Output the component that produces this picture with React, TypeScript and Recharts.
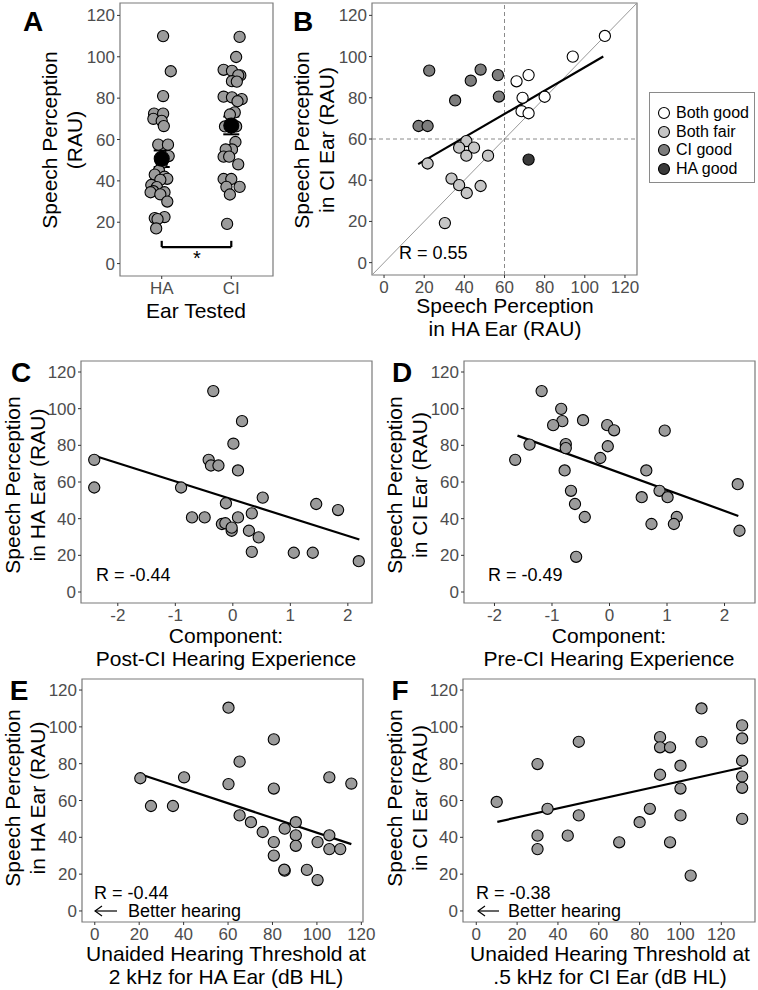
import React from 'react';
import { ScatterChart, Scatter, XAxis, YAxis, ReferenceLine, ReferenceArea, ErrorBar } from 'recharts';

const FONT = '"Liberation Sans", Arial, Helvetica, sans-serif';
const yTicks = [0, 20, 40, 60, 80, 100, 120];
const yDomain: [number, number] = [-6, 126];

// Panel A: speech perception per ear (jittered strip)
const haJitter = [1.02, 1.13, 1.02, 0.89, 1.02, 0.88, 1.0, 1.03, 0.95, 1.09, 1.1, 1.0, 0.96, 0.9, 1.04, 1.08, 0.98, 0.85, 0.93, 0.88, 0.84, 1.04, 0.98, 1.08, 1.04, 0.9, 0.94, 0.92];
const haScores = [110, 93, 81, 72.5, 72.5, 70, 69, 66.5, 57.5, 57.5, 52, 48.5, 45, 43, 42, 41, 40.5, 38, 37, 35, 34.5, 34.5, 33.5, 30, 22.5, 22, 21.5, 17];
const ciJitter = [2.12, 2.07, 1.89, 2.01, 2.13, 2.1, 2.01, 2.08, 1.89, 2.01, 2.15, 2.09, 2.05, 1.98, 1.91, 2.07, 2.06, 2.01, 1.92, 1.89, 1.97, 2.1, 1.89, 2.0, 1.93, 2.12, 1.98, 1.94];
const ciScores = [109.6, 99.9, 93.7, 93.2, 91, 91, 88.2, 88, 80.7, 80.4, 79.5, 78.5, 73.1, 72.1, 66.3, 66.3, 58.8, 55.2, 55.2, 51.7, 51.7, 48, 40.9, 40.9, 37.1, 37.1, 33.4, 19.2];
const earPos = [1, 2];
const earNames = ['HA', 'CI'];
const earMeans = [50.7, 66.8];
const earSE = [4, 4.3];

// Panel B: HA ear vs CI ear, by group
const groupNames = ['Both good', 'Both fair', 'CI good', 'HA good'];
const groupFills = ['#ffffff', '#c6c6c6', '#7d7d7d', '#3a3a3a'];
const bothGoodHA = [110, 94, 72, 66, 69, 80, 68.5, 72];
const bothGoodCI = [110, 100, 91, 88, 80, 80.5, 73.5, 72.5];
const bothFairHA = [21.7, 41, 37.4, 44.8, 41, 51.8, 33.6, 37.4, 41.2, 48.1, 30.3];
const bothFairCI = [48.1, 59, 55.8, 55.8, 51.9, 51.9, 40.8, 37.6, 33.8, 37.2, 19.2];
const ciGoodHA = [22.5, 43.2, 48.1, 56.7, 35.4, 57.2, 17.2, 21.7];
const ciGoodCI = [93.2, 88.3, 93.7, 91, 78.7, 80.6, 66.3, 66.3];
const haGoodHA = [72];
const haGoodCI = [50];
const fitB = [[17, 47.8], [109.2, 100]];

// Panel C: post-CI hearing experience component vs HA ear
const postCI = [-2.41, -2.41, -0.34, 0.16, 0.01, -0.42, -0.38, -0.25, 0.09, -0.9, -0.12, 0.52, -0.71, -0.49, 0.09, 0.33, -0.19, -0.13, -0.02, -0.02, 0.28, 0.45, 0.33, 1.06, 1.39, 1.45, 1.83, 2.19];
const haC = [72.1, 57, 109.6, 93.2, 80.9, 72.1, 69, 69, 66.3, 57, 48.4, 51.5, 40.7, 40.7, 40.7, 42.9, 37.1, 37.5, 33.4, 35.1, 33.4, 29.8, 21.9, 21.4, 21.4, 48, 44.7, 16.8];
const fitC = [[-2.35, 73.8], [2.2, 28.6]];

// Panel D: pre-CI hearing experience component vs CI ear
const preCI = [-1.18, -0.84, -0.82, -0.98, -0.46, -0.04, 0.08, 0.96, -1.39, -0.76, -0.76, -0.03, -0.16, -1.64, -0.78, 0.64, -0.67, -0.6, -0.43, 0.87, 0.56, 1.01, 1.17, 1.12, 0.73, 2.23, 2.26, -0.58];
const ciD = [109.6, 99.9, 93.2, 91, 93.7, 91, 88.2, 88, 80.4, 80.7, 78.5, 79.5, 73.1, 72.1, 66.3, 66.3, 55.2, 48, 40.9, 55.2, 51.7, 51.7, 40.9, 37.1, 37.1, 58.8, 33.4, 19.2];
const fitD = [[-1.6, 85.3], [2.24, 41.5]];

// Panel E: 2 kHz threshold HA ear vs HA ear
const thrHA = [20.5, 25.3, 35.2, 40.2, 60.2, 60.2, 65.2, 80.6, 80.6, 65.2, 70.3, 75.6, 80.6, 80.6, 85.5, 85.5, 85.3, 90.5, 90.5, 90.5, 95.5, 100.3, 100.3, 105.6, 105.6, 105.6, 110.5, 115.5];
const haE = [72.1, 57, 57, 72.6, 110.4, 68.9, 81.1, 93.2, 66.5, 51.9, 48.2, 42.9, 37.4, 30.1, 44.7, 21.9, 22.4, 48.2, 41.1, 35.4, 22.3, 37.4, 16.8, 72.6, 41.1, 33.6, 33.6, 69.2];
const fitE = [[20.5, 74.3], [115.5, 36.3]];

// Panel F: .5 kHz threshold CI ear vs CI ear
const thrCI = [10, 30, 30, 30, 34.9, 44.8, 50.2, 50.2, 70, 80, 85, 90, 90, 90, 94.9, 94.9, 100, 100, 100, 105, 110.3, 110.3, 130.2, 130.2, 130.2, 130.2, 130.2, 130.2];
const ciF = [59.2, 79.8, 40.9, 33.6, 55.5, 40.9, 91.9, 51.9, 37.3, 48.2, 55.5, 94.4, 88.9, 74, 88.9, 37.3, 78.9, 66.5, 51.9, 19.2, 110, 91.9, 100.8, 93.7, 81.6, 73, 66.9, 50];
const fitF = [[10.3, 48.4], [130, 77.8]];

const zip = (xs: number[], ys: number[]) => xs.map((x, i) => ({ x, y: ys[i] }));
const seg = (f: number[][]) => [{ x: f[0][0], y: f[0][1] }, { x: f[1][0], y: f[1][1] }];

const YW = 40;
const XH = 30;
const RM = 16; // room on the right so the last tick label is not clipped

const dot = (fill: string, r = 5.6) => (p: any) => (
  <circle cx={p.cx} cy={p.cy} r={r} fill={fill} stroke="#000" strokeWidth={1.1} />
);

type Box = { x: number; y: number; w: number; h: number };

function Panel({ box, xDomain, xTicks, xFmt, children }: { box: Box; xDomain: [number, number]; xTicks: number[]; xFmt?: (v: number) => string; children: React.ReactNode }) {
  const tick = { fill: '#4d4d4d', fontSize: 17, fontFamily: FONT };
  return (
    <div style={{ position: 'absolute', left: box.x - YW, top: box.y - 1 }}>
      <ScatterChart width={box.w + YW + RM} height={box.h + XH + 1} margin={{ top: 1, right: RM, left: 0, bottom: 0 }}>
        <XAxis type="number" dataKey="x" domain={xDomain} ticks={xTicks} interval={0} allowDataOverflow
          tickFormatter={xFmt} axisLine={false} tickSize={3} tickMargin={3} tickLine={{ stroke: '#333' }} tick={tick} height={XH} />
        <YAxis type="number" dataKey="y" domain={yDomain} ticks={yTicks} interval={0} allowDataOverflow
          axisLine={false} tickSize={3} tickMargin={2} tickLine={{ stroke: '#333' }} tick={tick} width={YW} />
        <ReferenceArea x1={xDomain[0]} x2={xDomain[1]} y1={yDomain[0]} y2={yDomain[1]} fill="none" stroke="#7a7a7a" strokeWidth={1.2} ifOverflow="visible" />
        {children}
      </ScatterChart>
    </div>
  );
}

function Txt({ x, y, size = 21, rotate = false, bold = false, left = false, lh = 23, children }: any) {
  return (
    <div style={{
      position: 'absolute', left: x, top: y, fontFamily: FONT, fontSize: size, lineHeight: lh + 'px',
      fontWeight: bold ? 700 : 400, color: '#000', whiteSpace: 'nowrap', textAlign: 'center',
      transform: left ? 'translateY(-50%)' : `translate(-50%,-50%)${rotate ? ' rotate(-90deg)' : ''}`,
    }}>{children}</div>
  );
}

function Arrow({ x1, x2, y }: { x1: number; x2: number; y: number }) {
  return (
    <svg style={{ position: 'absolute', left: x1, top: y - 6 }} width={x2 - x1 + 2} height={12}>
      <line x1={1} y1={6} x2={x2 - x1} y2={6} stroke="#000" strokeWidth={1.2} />
      <polyline points={`8,1 1,6 8,11`} fill="none" stroke="#000" strokeWidth={1.2} />
    </svg>
  );
}

const boxA = { x: 120, y: 3, w: 153, h: 273 };
const boxB = { x: 372, y: 3, w: 265, h: 272 };
const boxC = { x: 81, y: 361, w: 291, h: 242 };
const boxD = { x: 464, y: 361, w: 291, h: 242 };
const boxE = { x: 82, y: 679, w: 281, h: 243 };
const boxF = { x: 463, y: 679, w: 292, h: 243 };
const ticks120 = [0, 20, 40, 60, 80, 100, 120];
const ticksComp = [-2, -1, 0, 1, 2];

export default function App() {
  const meanData = earPos.map((x, i) => ({ x, y: earMeans[i], err: earSE[i] }));
  const groups = [
    zip(bothGoodHA, bothGoodCI),
    zip(bothFairHA, bothFairCI),
    zip(ciGoodHA, ciGoodCI),
    zip(haGoodHA, haGoodCI),
  ];
  const gray = '#9b9b9b';
  return (
    <div style={{ position: 'absolute', left: 0, top: 0, width: 758, height: 990, background: '#fff', fontFamily: FONT, overflow: 'hidden' }}>
      {/* A */}
      <Panel box={boxA} xDomain={[0.4, 2.6]} xTicks={earPos} xFmt={(v) => earNames[earPos.indexOf(v)] ?? ''}>
        <Scatter data={zip(haJitter, haScores)} shape={dot(gray)} isAnimationActive={false} />
        <Scatter data={zip(ciJitter, ciScores)} shape={dot(gray)} isAnimationActive={false} />
        <Scatter data={meanData} shape={dot('#000', 7.5)} isAnimationActive={false}>
          <ErrorBar dataKey="err" direction="y" width={8} stroke="#000" strokeWidth={2} isAnimationActive={false} />
        </Scatter>
        <ReferenceLine segment={[{ x: 1, y: 8 }, { x: 2, y: 8 }]} stroke="#000" strokeWidth={2.2} />
        <ReferenceLine segment={[{ x: 1, y: 8 }, { x: 1, y: 11 }]} stroke="#000" strokeWidth={2.2} />
        <ReferenceLine segment={[{ x: 2, y: 8 }, { x: 2, y: 11 }]} stroke="#000" strokeWidth={2.2} />
      </Panel>
      <Txt x={197} y={258} size={20}>*</Txt>

      {/* B */}
      <Panel box={boxB} xDomain={yDomain} xTicks={ticks120}>
        <ReferenceLine segment={[{ x: -6, y: -6 }, { x: 126, y: 126 }]} stroke="#999" strokeWidth={1} ifOverflow="hidden" />
        <ReferenceLine x={60} stroke="#8a8a8a" strokeDasharray="4 3" />
        <ReferenceLine y={60} stroke="#8a8a8a" strokeDasharray="4 3" />
        {groups.map((g, i) => (
          <Scatter key={groupNames[i]} name={groupNames[i]} data={g} shape={dot(groupFills[i])} isAnimationActive={false} />
        ))}
        <ReferenceLine segment={seg(fitB)} stroke="#000" strokeWidth={2.2} />
      </Panel>
      <div style={{ position: 'absolute', left: 649, top: 92, width: 104, height: 89, border: '1px solid #8a8a8a', background: '#fff' }}>
        {groupNames.map((n, i) => (
          <div key={n} style={{ position: 'absolute', left: 7, top: 11 + i * 18.7, height: 18, display: 'flex', alignItems: 'center' }}>
            <svg width={14} height={14}><circle cx={7} cy={7} r={5.5} fill={groupFills[i]} stroke="#000" strokeWidth={1.1} /></svg>
            <span style={{ marginLeft: 5, fontSize: 16, fontFamily: FONT, color: '#000' }}>{n}</span>
          </div>
        ))}
      </div>

      {/* C */}
      <Panel box={boxC} xDomain={[-2.64, 2.42]} xTicks={ticksComp}>
        <Scatter data={zip(postCI, haC)} shape={dot(gray)} isAnimationActive={false} />
        <ReferenceLine segment={seg(fitC)} stroke="#000" strokeWidth={2.2} />
      </Panel>

      {/* D */}
      <Panel box={boxD} xDomain={[-2.53, 2.53]} xTicks={ticksComp}>
        <Scatter data={zip(preCI, ciD)} shape={dot(gray)} isAnimationActive={false} />
        <ReferenceLine segment={seg(fitD)} stroke="#000" strokeWidth={2.2} />
      </Panel>

      {/* E */}
      <Panel box={boxE} xDomain={[-5.75, 120.75]} xTicks={ticks120}>
        <Scatter data={zip(thrHA, haE)} shape={dot(gray)} isAnimationActive={false} />
        <ReferenceLine segment={seg(fitE)} stroke="#000" strokeWidth={2.2} />
      </Panel>

      {/* F */}
      <Panel box={boxF} xDomain={[-6.5, 136.5]} xTicks={ticks120}>
        <Scatter data={zip(thrCI, ciF)} shape={dot(gray)} isAnimationActive={false} />
        <ReferenceLine segment={seg(fitF)} stroke="#000" strokeWidth={2.2} />
      </Panel>

      {/* panel letters */}
      <Txt x={33} y={22} size={28} bold lh={28}>A</Txt>
      <Txt x={303} y={22} size={28} bold lh={28}>B</Txt>
      <Txt x={21} y={373} size={28} bold lh={28}>C</Txt>
      <Txt x={402} y={373} size={28} bold lh={28}>D</Txt>
      <Txt x={19} y={691} size={28} bold lh={28}>E</Txt>
      <Txt x={400} y={691} size={28} bold lh={28}>F</Txt>

      {/* axis titles */}
      <Txt x={62} y={140} rotate lh={25}>Speech Perception<br />(RAU)</Txt>
      <Txt x={196} y={310}>Ear Tested</Txt>
      <Txt x={314} y={140} rotate lh={25}>Speech Perception<br />in CI Ear (RAU)</Txt>
      <Txt x={505} y={317}>Speech Perception<br />in HA Ear (RAU)</Txt>
      <Txt x={25} y={485} rotate lh={25}>Speech Perception<br />in HA Ear (RAU)</Txt>
      <Txt x={226} y={647}>Component:<br />Post-CI Hearing Experience</Txt>
      <Txt x={407} y={485} rotate lh={25}>Speech Perception<br />in CI Ear (RAU)</Txt>
      <Txt x={609} y={647}>Component:<br />Pre-CI Hearing Experience</Txt>
      <Txt x={25} y={798} rotate lh={25}>Speech Perception<br />in HA Ear (RAU)</Txt>
      <Txt x={226} y={965}>Unaided Hearing Threshold at<br />2 kHz for HA Ear (dB HL)</Txt>
      <Txt x={407} y={798} rotate lh={25}>Speech Perception<br />in CI Ear (RAU)</Txt>
      <Txt x={610} y={965}>Unaided Hearing Threshold at<br />.5 kHz for CI Ear (dB HL)</Txt>

      {/* annotations */}
      <Txt x={399} y={253} size={18} left>R = 0.55</Txt>
      <Txt x={96} y={575} size={18} left>R = -0.44</Txt>
      <Txt x={488} y={575} size={18} left>R = -0.49</Txt>
      <Txt x={94} y={893} size={18} left>R = -0.44</Txt>
      <Txt x={476} y={893} size={18} left>R = -0.38</Txt>
      <Arrow x1={94} x2={117} y={911} />
      <Txt x={128} y={911} size={18} left>Better hearing</Txt>
      <Arrow x1={477} x2={499} y={911} />
      <Txt x={508} y={911} size={18} left>Better hearing</Txt>
    </div>
  );
}
